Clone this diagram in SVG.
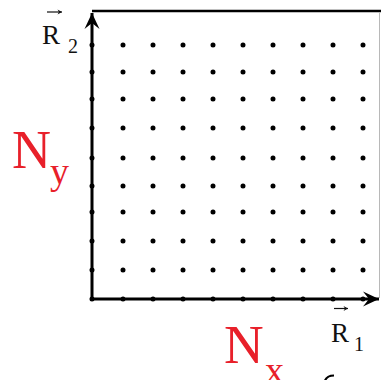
<svg xmlns="http://www.w3.org/2000/svg" width="381" height="380" viewBox="0 0 381 380">
<style>
.ax{fill:none;stroke:#000;stroke-width:3}
.dots{fill:none;stroke:#000;stroke-width:5;stroke-linecap:round}
.lab{fill:#111}
.red{fill:#e8202a}
.vec{fill:none;stroke:#111;stroke-width:1.2}
</style>
<defs>
<marker id="ah" viewBox="-17 -8 18 16" markerWidth="18" markerHeight="16" refX="0" refY="0" orient="auto-start-reverse" markerUnits="userSpaceOnUse">
<path d="M0,0 L-16,-7.5 L-10,0 L-16,7.5 Z" fill="#000"/>
</marker>
<marker id="sh" viewBox="-5 -3 6 6" markerWidth="6" markerHeight="6" refX="0" refY="0" orient="auto" markerUnits="userSpaceOnUse">
<path d="M0,0 L-4.5,-2.5 L-3,0 L-4.5,2.5 Z" fill="#111"/>
</marker>
</defs>
<g id="frame">
<path d="M92 11 H381" fill="none" stroke="#000" stroke-width="2.5"/>
<path d="M379.5 12 V298" fill="none" stroke="#b8b8b8" stroke-width="1"/>
</g>
<g id="grid">
<path class="dots" d="M92 45h0m31 0h0m30 0h0m30 0h0m30 0h0m30 0h0m30 0h0m30 0h0m30 0h0m30 0h0
M92 72h0m31 0h0m30 0h0m30 0h0m30 0h0m30 0h0m30 0h0m30 0h0m30 0h0m30 0h0
M92 99h0m31 0h0m30 0h0m30 0h0m30 0h0m30 0h0m30 0h0m30 0h0m30 0h0m30 0h0
M92 128h0m31 0h0m30 0h0m30 0h0m30 0h0m30 0h0m30 0h0m30 0h0m30 0h0m30 0h0
M92 158h0m31 0h0m30 0h0m30 0h0m30 0h0m30 0h0m30 0h0m30 0h0m30 0h0m30 0h0
M92 186h0m31 0h0m30 0h0m30 0h0m30 0h0m30 0h0m30 0h0m30 0h0m30 0h0m30 0h0
M92 212h0m31 0h0m30 0h0m30 0h0m30 0h0m30 0h0m30 0h0m30 0h0m30 0h0m30 0h0
M92 241h0m31 0h0m30 0h0m30 0h0m30 0h0m30 0h0m30 0h0m30 0h0m30 0h0m30 0h0
M92 270h0m31 0h0m30 0h0m30 0h0m30 0h0m30 0h0m30 0h0m30 0h0m30 0h0m30 0h0"/>
<path class="dots" stroke-width="4" d="M92 299h0m31 0h0m30 0h0m30 0h0m30 0h0m30 0h0m30 0h0m30 0h0m30 0h0m30 0h0"/>
</g>
<g id="connectors">
<path class="ax" d="M92 13 V299 H379" marker-start="url(#ah)" marker-end="url(#ah)"/>
</g>
<g font-family="Liberation Serif, Times New Roman, serif">
<g id="label-R2">
<text class="lab" x="42" y="43.5" font-size="27">R</text>
<text class="lab" x="68" y="53" font-size="20">2</text>
<path class="vec" d="M47 12 H62" marker-end="url(#sh)"/>
</g>
<g id="label-R1">
<text class="lab" x="331" y="342" font-size="27">R</text>
<text class="lab" x="354" y="350.5" font-size="20">1</text>
<path class="vec" d="M334 308.5 H348" marker-end="url(#sh)"/>
</g>
<g id="label-Ny">
<text class="red" x="12" y="168" font-size="54">N</text>
<text class="red" x="50" y="184" font-size="38">y</text>
</g>
<g id="label-Nx">
<text class="red" x="224" y="363" font-size="55">N</text>
<text class="red" x="265" y="383" font-size="38">x</text>
</g>
</g>
<path d="M325 380.5 Q327 375.5 334 375.5" fill="none" stroke="#000" stroke-width="2.2"/>
</svg>
